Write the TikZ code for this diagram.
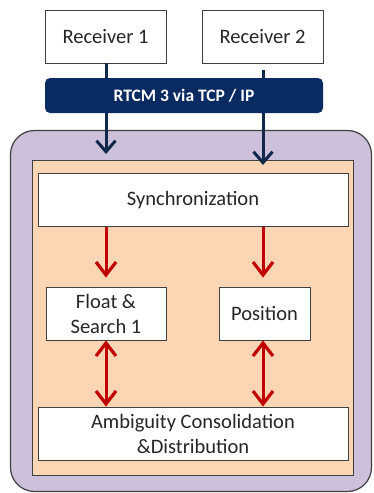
\documentclass[tikz,border=0pt]{standalone}
\usepackage{fontspec}
\setmainfont{Carlito}
\usetikzlibrary{arrows.meta}
\definecolor{lav}{HTML}{CCC0DA}
\definecolor{peach}{HTML}{FCD5B5}
\definecolor{navy}{HTML}{0A2A62}
\definecolor{arrnavy}{HTML}{10284A}
\definecolor{dred}{HTML}{C00000}
\definecolor{edge}{HTML}{404040}
\definecolor{txt}{HTML}{262626}
\tikzset{
  box/.style={draw=edge, line width=0.8pt, fill=white, inner sep=0pt, align=center,
    text=txt, font=\fontsize{20.5}{25}\selectfont},
  navyarrow/.style={draw=arrnavy, line width=3pt, -{Straight Barb[length=11pt,width=19pt,line width=3pt]}},
  redarrow/.style={draw=dred, line width=3pt, -{Straight Barb[length=13pt,width=20pt,line width=3.2pt]}},
  reddouble/.style={draw=dred, line width=3pt, {Straight Barb[length=13pt,width=20pt,line width=3.2pt]}-{Straight Barb[length=13pt,width=20pt,line width=3.2pt]}},
}
\begin{document}
\begin{tikzpicture}[x=1pt,y=-1pt]
\useasboundingbox (0,0) rectangle (373,493);
% containers
\node[draw=edge, line width=1.2pt, fill=lav, rounded corners=24pt, minimum width=361pt, minimum height=361pt, inner sep=0pt] (outer) at (191,311) {};
\node[draw=edge, line width=0.8pt, fill=peach, minimum width=321pt, minimum height=315pt, inner sep=0pt] (inner) at (192.5,317.5) {};
% receivers
\node[box, minimum width=121pt, minimum height=53pt] (rec1) at (105.5,36.5) {Receiver 1};
\node[box, minimum width=121pt, minimum height=53pt] (rec2) at (262.5,36.5) {Receiver 2};
% navy arrows
\coordinate (a1end) at (106,154);
\coordinate (a2start) at (263,70);
\coordinate (a2end) at (263,165);
\draw[navyarrow] (rec1.south -| a1end) -- (a1end);
\draw[navyarrow] (a2start) -- (a2end);
% bar
\node[fill=navy, rounded corners=5pt, minimum width=278pt, minimum height=35pt, inner sep=0pt,
  text=white, font=\fontsize{17.5}{20}\selectfont\bfseries] (bar) at (184,95.5) {RTCM 3 via TCP / IP};
% inner boxes
\node[box, minimum width=310pt, minimum height=53pt] (sync) at (193,200) {Synchronization};
\node[box, minimum width=120pt, minimum height=53pt] (float) at (106,313.5) {Float \&\\Search 1};
\node[box, minimum width=91pt, minimum height=53pt] (pos) at (264.5,313.5) {Position};
\node[box, minimum width=310pt, minimum height=53pt] (amb) at (193,433.5) {Ambiguity Consolidation\\\&Distribution};
% red arrows
\draw[redarrow, shorten >=9pt] (sync.south -| float.north) -- (float.north);
\draw[redarrow, shorten >=9pt] (sync.south -| a2end) -- (pos.north -| a2end);
\draw[reddouble] (float.south) -- (amb.north -| float.south);
\draw[reddouble] (pos.south -| a2end) -- (amb.north -| a2end);
\end{tikzpicture}
\end{document}
